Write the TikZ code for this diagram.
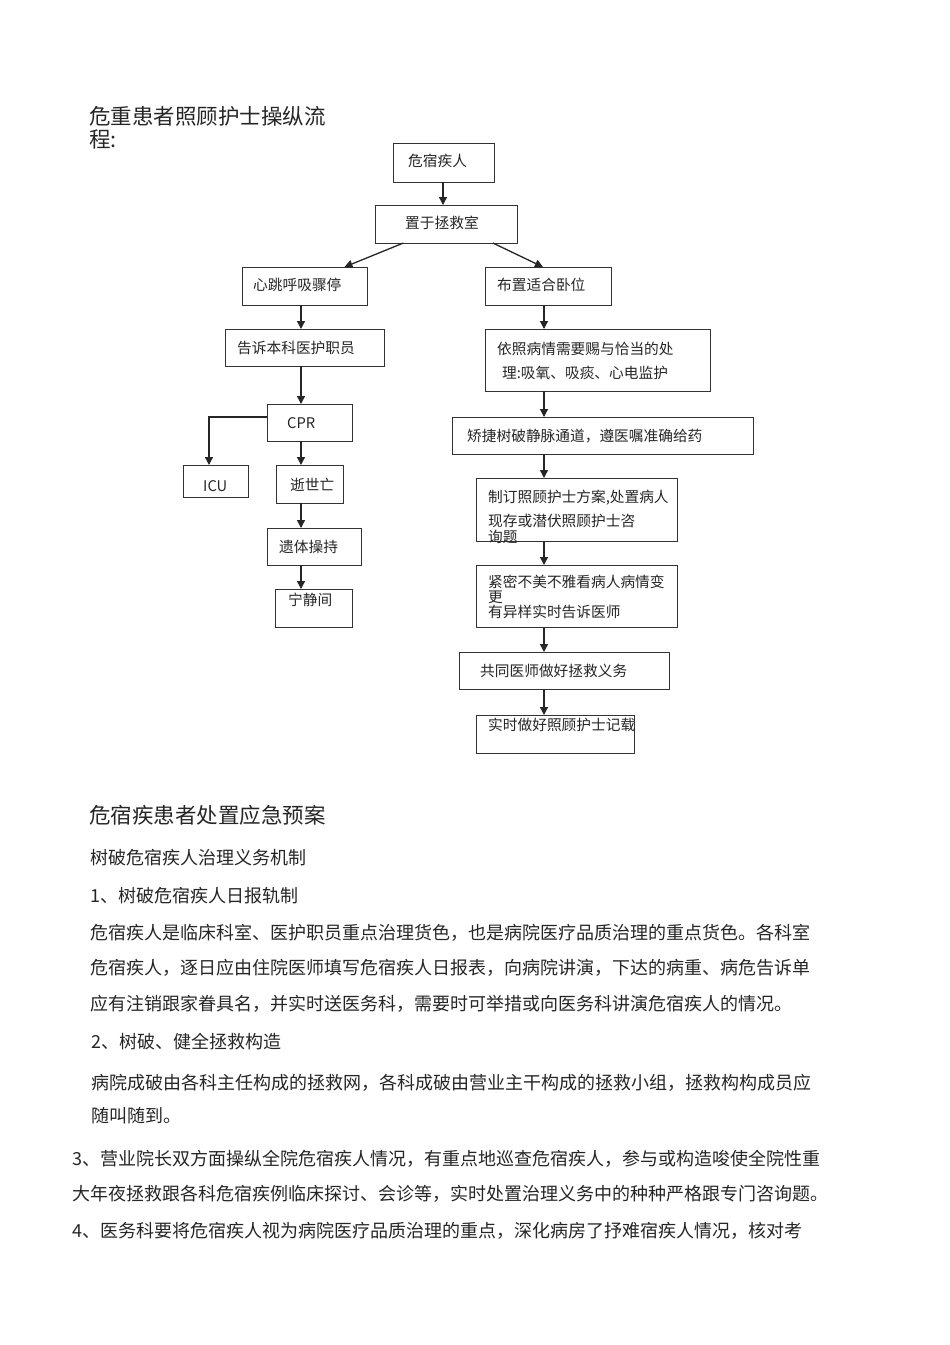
\documentclass[tikz,border=0pt]{standalone}
\usepackage{fontspec}
\setmainfont{Noto Sans CJK SC}
\usetikzlibrary{arrows.meta,shadows,calc}
\tikzset{
  boxst/.style={draw=black!80, line width=0.9pt, fill=white, inner sep=0pt, outer sep=0pt,
    drop shadow={shadow xshift=1.3pt, shadow yshift=-1.3pt, opacity=0.75, fill=black!70}},
  ftxt/.style={anchor=west, inner sep=0pt, font=\fontsize{14.7}{16}\selectfont, text=black!85},
  btxt/.style={anchor=west, inner sep=0pt, font=\fontsize{18}{20}\selectfont, text=black!85},
  htxt/.style={anchor=west, inner sep=0pt, font=\fontsize{21.5}{23}\selectfont, text=black!85},
  arr/.style={draw=black!85, line width=1.3pt, -{Triangle[length=8pt,width=8pt]}}
}
\newcommand\mkbox[5]{\node[boxst, minimum width={#4pt-#2pt}, minimum height={#5pt-#3pt}] (#1) at ({(#2+#4)/2},{(#3+#5)/2}) {};}
\begin{document}
\begin{tikzpicture}[x=1pt,y=-1pt]
\useasboundingbox (0,0) rectangle (950,1345);
\fill[white] (0,0) rectangle (950,1345);

% title
\node[htxt] (title1) at (89,116) {危重患者照顾护士操纵流};
\node[htxt] (title2) at (89,139) {程:};

% boxes
\mkbox{a1}{393}{143}{494}{182}
\mkbox{a2}{375}{205}{517}{243}
\mkbox{l1}{242}{267}{367}{305}
\mkbox{r1}{485}{267}{611}{305}
\mkbox{l2}{225}{329}{384}{366}
\mkbox{r2}{485}{329}{710}{391}
\mkbox{cpr}{267}{404}{352}{441}
\mkbox{r3}{452}{417}{753}{454}
\mkbox{icu}{183}{465}{248}{497}
\mkbox{dead}{276}{465}{343}{503}
\mkbox{r4}{476}{478}{677}{541}
\mkbox{body}{267}{528}{361}{565}
\mkbox{quiet}{275}{589}{352}{627}
\mkbox{r5}{476}{565}{677}{627}
\mkbox{r6}{459}{652}{669}{689}
\mkbox{r7}{476}{715}{634}{753}

% helper columns
\coordinate (colL) at (301,0);
\coordinate (colR) at (544,0);
\coordinate (colM) at (443,0);
\coordinate (icuX) at (209,417);

% texts in boxes
\node[ftxt] (ta1) at (408,161) {危宿疾人};
\node[ftxt] (ta2) at (405,223) {置于拯救室};
\node[ftxt] (tl1) at (253,285) {心跳呼吸骤停};
\node[ftxt] (tr1) at (497,285) {布置适合卧位};
\node[ftxt] (tl2) at (237,348) {告诉本科医护职员};
\node[ftxt] (tr2a) at (497,349) {依照病情需要赐与恰当的处};
\node[ftxt] (tr2b) at (502,373) {理:吸氧、吸痰、心电监护};
\node[ftxt] (tcpr) at (287,423) {CPR};
\node[ftxt] (tr3) at (467,436) {矫捷树破静脉通道，遵医嘱准确给药};
\node[ftxt] (ticu) at (203,486) {ICU};
\node[ftxt] (tdead) at (290,485) {逝世亡};
\node[ftxt] (tr4a) at (488,498) {制订照顾护士方案,处置病人};
\node[ftxt] (tr4b) at (488,521) {现存或潜伏照顾护士咨};
\node[ftxt] (tr4c) at (488,537) {询题};
\node[ftxt] (tbody) at (279,547) {遗体操持};
\node[ftxt] (tquiet) at (288,600) {宁静间};
\node[ftxt] (tr5a) at (488,582) {紧密不美不雅看病人病情变};
\node[ftxt] (tr5b) at (488,597) {更};
\node[ftxt] (tr5c) at (488,612) {有异样实时告诉医师};
\node[ftxt] (tr6) at (480,671) {共同医师做好拯救义务};
\node[ftxt] (tr7) at (488,725) {实时做好照顾护士记载};

% connectors
\draw[arr] (a1.south -| colM) -- (a2.north -| colM);
\draw[arr] ($(a2.south west)!0.2!(a2.south east)$) -- ($(l1.north west)!0.82!(l1.north east)$);
\draw[arr] ($(a2.south west)!0.83!(a2.south east)$) -- ($(r1.north west)!0.46!(r1.north east)$);
\draw[arr] (l1.south -| colL) -- (l2.north -| colL);
\draw[arr] (l2.south -| colL) -- (cpr.north -| colL);
\draw[arr] (cpr.west |- icuX) -| (icu.north -| icuX);
\draw[arr] (cpr.south -| colL) -- (dead.north -| colL);
\draw[arr] (dead.south -| colL) -- (body.north -| colL);
\draw[arr] (body.south -| colL) -- (quiet.north -| colL);
\draw[arr] (r1.south -| colR) -- (r2.north -| colR);
\draw[arr] (r2.south -| colR) -- (r3.north -| colR);
\draw[arr] (r3.south -| colR) -- (r4.north -| colR);
\draw[arr] (r4.south -| colR) -- (r5.north -| colR);
\draw[arr] (r5.south -| colR) -- (r6.north -| colR);
\draw[arr] (r6.south -| colR) -- (r7.north -| colR);

% body text
\node[htxt] (h1) at (89,815) {危宿疾患者处置应急预案};
\node[btxt] (p1) at (90,858) {树破危宿疾人治理义务机制};
\node[btxt] (p2) at (90,896) {1、树破危宿疾人日报轨制};
\node[btxt] (p3) at (90,933) {危宿疾人是临床科室、医护职员重点治理货色，也是病院医疗品质治理的重点货色。各科室};
\node[btxt] (p4) at (90,968) {危宿疾人，逐日应由住院医师填写危宿疾人日报表，向病院讲演，下达的病重、病危告诉单};
\node[btxt] (p5) at (90,1004) {应有注销跟家眷具名，并实时送医务科，需要时可举措或向医务科讲演危宿疾人的情况。};
\node[btxt] (p6) at (91,1042) {2、树破、健全拯救构造};
\node[btxt] (p7) at (91,1083) {病院成破由各科主任构成的拯救网，各科成破由营业主干构成的拯救小组，拯救构构成员应};
\node[btxt] (p8) at (91,1116) {随叫随到。};
\node[btxt] (p9) at (72,1159) {3、营业院长双方面操纵全院危宿疾人情况，有重点地巡查危宿疾人，参与或构造唆使全院性重};
\node[btxt] (p10) at (72,1194) {大年夜拯救跟各科危宿疾例临床探讨、会诊等，实时处置治理义务中的种种严格跟专门咨询题。};
\node[btxt] (p11) at (72,1231) {4、医务科要将危宿疾人视为病院医疗品质治理的重点，深化病房了抒难宿疾人情况，核对考};
\end{tikzpicture}
\end{document}
